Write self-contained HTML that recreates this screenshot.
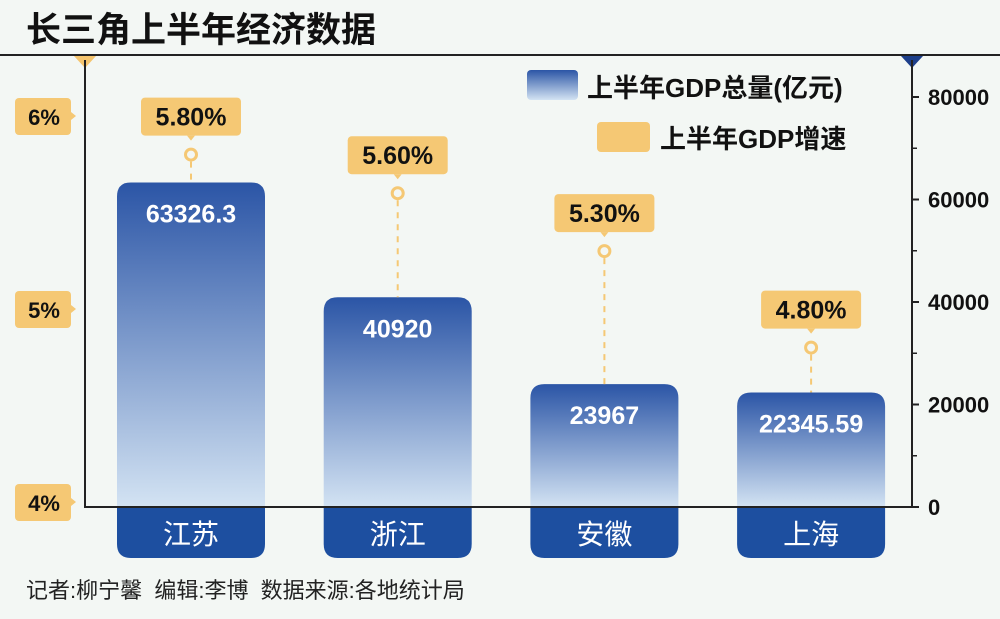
<!DOCTYPE html>
<html><head><meta charset="utf-8">
<style>
body{margin:0;background:#f3f7f4;}
svg{display:block;font-family:"Liberation Sans","Noto Sans CJK SC",sans-serif;}
</style></head>
<body>
<svg id="chart" width="1000" height="619" viewBox="0 0 1000 619">
<defs>
<linearGradient id="barGrad" x1="0" y1="0" x2="0" y2="1">
<stop offset="0" stop-color="#2b55a6"/><stop offset="1" stop-color="#d3e3f3"/>
</linearGradient>
<linearGradient id="legGrad" x1="0" y1="0" x2="0" y2="1">
<stop offset="0" stop-color="#2b55a6"/><stop offset="1" stop-color="#d3e3f3"/>
</linearGradient>
</defs>
<rect width="1000" height="619" fill="#f3f7f4"/>
<text x="26" y="42" font-size="35" font-weight="bold" fill="#111">长三角上半年经济数据</text>
<line x1="0" y1="55" x2="1000" y2="55" stroke="#222" stroke-width="2"/>
<polygon points="74,56 96,56 85,68" fill="#f5c56e"/>
<polygon points="901,56 923,56 912,68" fill="#1d3f8a"/>
<line x1="85" y1="60" x2="85" y2="508" stroke="#222" stroke-width="2"/>
<line x1="912" y1="60" x2="912" y2="508" stroke="#222" stroke-width="2"/>
<g id="bars"></g>
<line x1="84" y1="507" x2="913" y2="507" stroke="#222" stroke-width="2"/>
<g id="labels"></g>
<g>
<rect x="527" y="70" width="51" height="30" rx="4" fill="url(#legGrad)"/>
<text x="587" y="97" font-size="26" fill="#111" font-weight="bold">上半年GDP总量(亿元)</text>
<rect x="597" y="122" width="53" height="30" rx="4" fill="#f5c874"/>
<text x="660" y="148" font-size="26" fill="#111" font-weight="bold">上半年GDP增速</text>
</g>
<text x="26" y="598" font-size="22" fill="#222">记者:柳宁馨&#160;&#160;编辑:李博&#160;&#160;数据来源:各地统计局</text>
</svg>
<script>
const categories = ['江苏','浙江','安徽','上海'];
const gdpValues = [63326.3, 40920, 23967, 22345.59];
const gdpLabels = ['63326.3','40920','23967','22345.59'];
const growthValues = [5.8, 5.6, 5.3, 4.8];
const growthLabels = ['5.80%','5.60%','5.30%','4.80%'];
const rightTicks = [0,20000,40000,60000,80000];
const rightMinorTicks = [10000,30000,50000,70000];
const leftTicks = [4,5,6];
const leftTickLabels = ['4%','5%','6%'];

const NS='http://www.w3.org/2000/svg';
function yG(v){return 507 - v*(410/80000);}
function yP(v){return 502 - (v-4)*193;}
function xC(i){return 191 + i*206.7;}
function mk(tag,attrs,parent){const e=document.createElementNS(NS,tag);for(const k in attrs)e.setAttribute(k,attrs[k]);parent.appendChild(e);return e;}
const svg=document.getElementById('chart');
const bars=document.getElementById('bars');
const labels=document.getElementById('labels');

rightTicks.forEach((t,i)=>{
  const y=yG(t);
  const l=mk('line',{x1:912,y1:y,x2:919,y2:y,stroke:'#222','stroke-width':2},svg);
  
  
  const tx=mk('text',{x:928,y:y+8,'font-size':22,'font-weight':'bold',fill:'#111'},svg);
  tx.textContent=String(t);
  
  
});
rightMinorTicks.forEach(t=>{
  const y=yG(t);
  const l=mk('line',{x1:912,y1:y,x2:917,y2:y,stroke:'#222','stroke-width':1.5},svg);
  
  
});
leftTicks.forEach((t,i)=>{
  const y=yP(t);
  const g=mk('g',{},svg);
  
  
  mk('rect',{x:15,y:y-18,width:56,height:37,rx:4,fill:'#f5c874'},g);
  mk('polygon',{points:`71,${y-4} 76,${y} 71,${y+4}`,fill:'#f5c874'},g);
  const tx=mk('text',{x:44,y:y+9,'font-size':22,'font-weight':'bold',fill:'#111','text-anchor':'middle'},g);
  tx.textContent=leftTickLabels[i];
});

categories.forEach((c,i)=>{
  const cx=xC(i), w=148, x=cx-w/2, top=yG(gdpValues[i]), bot=558, r=14;
  const b=mk('path',{d:`M${x},${top+r} Q${x},${top} ${x+r},${top} L${x+w-r},${top} Q${x+w},${top} ${x+w},${top+r} L${x+w},507 L${x},507 Z`,fill:'url(#barGrad)'},bars);
  
  
  const band=mk('path',{d:`M${x},507 L${x+w},507 L${x+w},${bot-r} Q${x+w},${bot} ${x+w-r},${bot} L${x+r},${bot} Q${x},${bot} ${x},${bot-r} Z`,fill:'#1d4fa0'},bars);
  
  
  const ct=mk('text',{x:cx,y:544,'font-size':28,fill:'#fff','text-anchor':'middle'},bars);
  ct.textContent=c;
  
  
  const vt=mk('text',{x:cx,y:top+40,'font-size':25,'font-weight':'bold',fill:'#fff','text-anchor':'middle'},bars);
  vt.textContent=gdpLabels[i];
  
  

  const py=yP(growthValues[i]);
  const dl=mk('line',{x1:cx,y1:py+7,x2:cx,y2:top,stroke:'#f5c874','stroke-width':2,'stroke-dasharray':'6,6'},labels);
  
  
  const pt=mk('circle',{cx:cx,cy:py,r:5.5,fill:'none',stroke:'#f5c874','stroke-width':3},labels);
  
  
  const g=mk('g',{},labels);
  
  
  mk('rect',{x:cx-50,y:py-57,width:100,height:38,rx:4,fill:'#f5c874'},g);
  mk('polygon',{points:`${cx-4},${py-19} ${cx+4},${py-19} ${cx},${py-14}`,fill:'#f5c874'},g);
  const gt=mk('text',{x:cx,y:py-29,'font-size':25,'font-weight':'bold',fill:'#111','text-anchor':'middle'},g);
  gt.textContent=growthLabels[i];
});
</script>
</body></html>
